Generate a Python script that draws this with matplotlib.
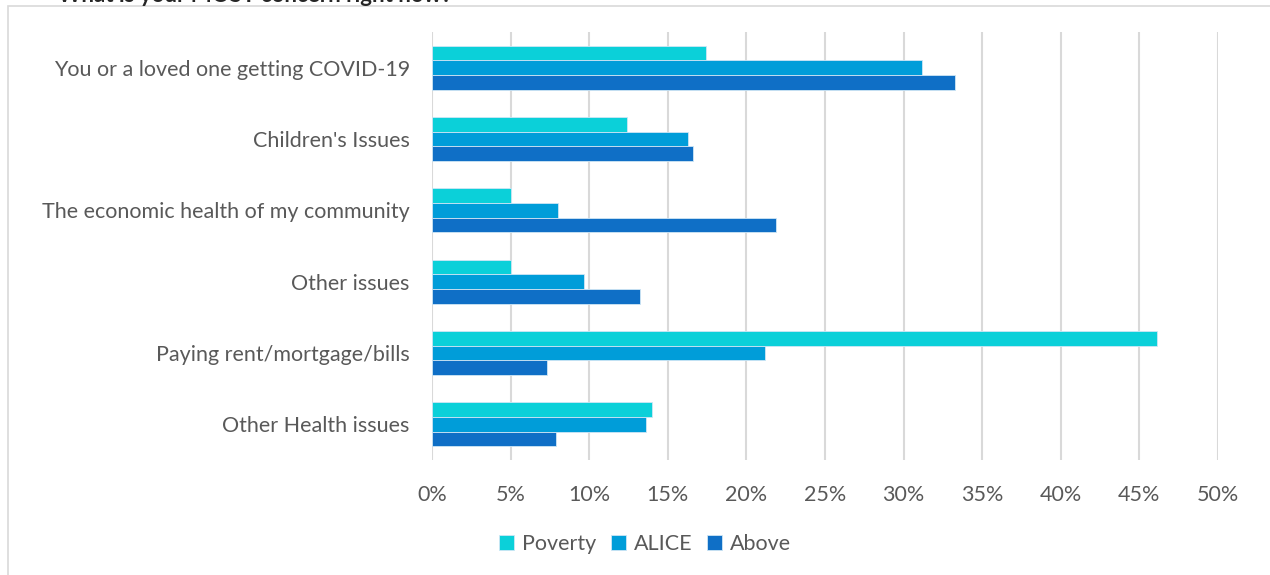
import matplotlib
matplotlib.use("Agg")
import matplotlib.pyplot as plt
import numpy as np
from matplotlib.patches import Rectangle

categories = ["You or a loved one getting COVID-19", "Children's Issues",
              "The economic health of my community", "Other issues",
              "Paying rent/mortgage/bills", "Other Health issues"]
poverty = [17.4, 12.4, 5.0, 5.0, 46.1, 14.0]
alice = [31.2, 16.3, 8.0, 9.7, 21.2, 13.6]
above = [33.3, 16.6, 21.9, 13.2, 7.3, 7.9]
series_names = ["Poverty", "ALICE", "Above"]
xticks = [0, 5, 10, 15, 20, 25, 30, 35, 40, 45, 50]
xticklabels = [f"{v}%" for v in xticks]
title = "What is your MOST concern right now?"

colors = ["#0BD0D9", "#009DD9", "#0F6FC6"]
text_color = "#595959"
font = "Lato"
fs = 15.5

fig = plt.figure(figsize=(12.7, 5.75), dpi=100)
ax = fig.add_axes([432/1270, 1-460/575, (1218-432)/1270, (460-32)/575])

# chart border
fig.patches.append(Rectangle((8/1270, -0.1), 1.2, 1-6/575+0.1, transform=fig.transFigure,
                             fill=False, edgecolor="#D9D9D9", linewidth=1.2, zorder=0))
fig.text(58/1270, 1-1.5/575, title, fontsize=16, fontweight="bold", color="#262626",
         family=font, va="baseline", ha="left")

y = np.arange(len(categories))
h = 0.207
for i, (vals, name) in enumerate(zip([poverty, alice, above], series_names)):
    ax.barh(y + (i-1)*h, vals, height=h, color=colors[i], label=name,
            edgecolor="#CFE6F5", linewidth=0.6, zorder=3)

ax.set_ylim(len(categories)-0.5, -0.5)
ax.set_xlim(0, 50)
ax.set_xticks(xticks)
ax.set_xticklabels(xticklabels)
ax.set_yticks(y)
ax.set_yticklabels(categories)
ax.tick_params(axis="both", length=0, labelsize=fs, labelcolor=text_color)
ax.tick_params(axis="x", pad=18)
ax.tick_params(axis="y", pad=16)
for lab in ax.get_xticklabels() + ax.get_yticklabels():
    lab.set_family(font)
ax.grid(axis="x", color="#D9D9D9", linewidth=1.5, zorder=0)
ax.set_axisbelow(True)
for s in ax.spines.values():
    s.set_visible(False)

leg = fig.legend(loc="center", bbox_to_anchor=(645/1270, 1-544/575), ncol=3, frameon=False,
                 handlelength=0.7, handleheight=0.7, handletextpad=0.35, columnspacing=0.7,
                 prop={"family": font, "size": fs})
for t in leg.get_texts():
    t.set_color(text_color)

fig.savefig("out.png", dpi=100)
